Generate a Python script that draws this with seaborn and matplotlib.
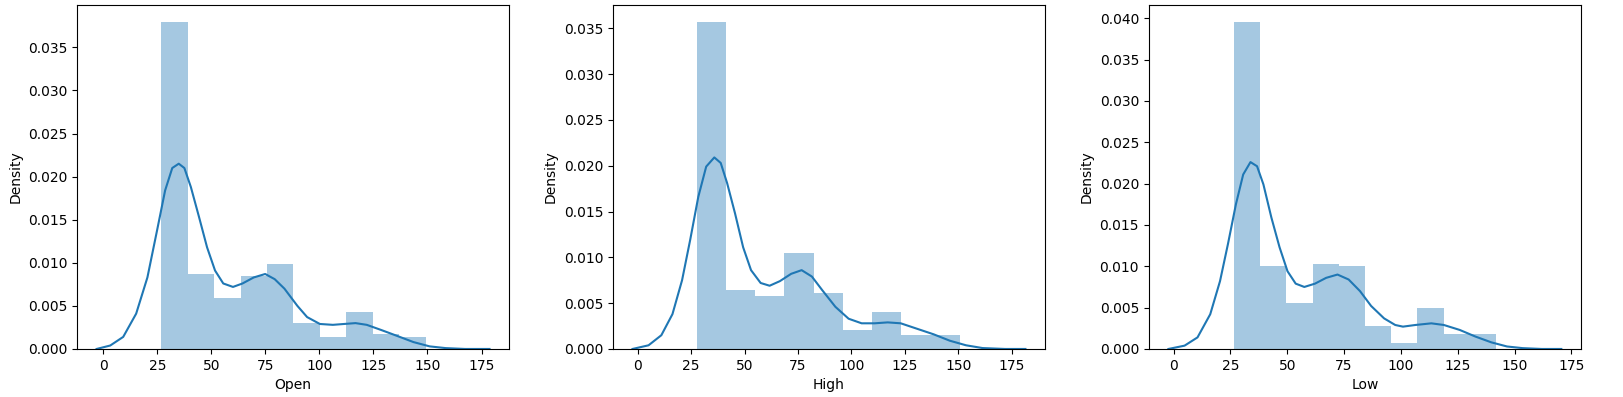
import seaborn as sns
import matplotlib
matplotlib.use("Agg")
import matplotlib.pyplot as plt
import numpy as np

# histogram bins (density)
open_edges = [26.8, 39.0, 51.3, 63.5, 75.8, 88.0, 100.2, 112.5, 124.7, 137.0, 149.2]
open_dens = [0.0380, 0.00873, 0.00595, 0.00842, 0.00981, 0.00301, 0.00139, 0.00425, 0.0017, 0.00139]
high_edges = [27.5, 41.2, 54.9, 68.6, 82.3, 95.9, 109.6, 123.3, 137.0, 150.7]
high_dens = [0.03573, 0.00646, 0.00581, 0.01046, 0.0061, 0.00203, 0.00407, 0.00153, 0.00153]
low_edges = [26.6, 38.1, 49.6, 61.2, 72.7, 84.2, 95.7, 107.3, 118.8, 130.3, 141.9]
low_dens = [0.0396, 0.00998, 0.00555, 0.0103, 0.00998, 0.00274, 0.00072, 0.00491, 0.00177, 0.00177]

# kde curves, points
open_kde_x = [-3.1, 3.2, 9.2, 15.2, 20.4, 24.9, 28.6, 31.9, 34.9, 37.5, 40.5, 44.3, 48.0, 51.7, 55.5,
              60.0, 64.4, 69.6, 74.9, 79.3, 83.8, 89.8, 94.3, 100.2, 106.2, 111.4, 116.7, 121.9,
              128.6, 136.1, 143.5, 151.0, 158.4, 167.4, 178.7]
open_kde_y = [0.0, 0.0004, 0.0014, 0.0041, 0.0083, 0.0138, 0.0184, 0.0210, 0.0215, 0.0210, 0.0188,
              0.0153, 0.0118, 0.0091, 0.0076, 0.0072, 0.0076, 0.0083, 0.0087, 0.0081, 0.0070, 0.0050,
              0.0037, 0.0029, 0.0028, 0.0029, 0.0030, 0.0028, 0.0022, 0.0015, 0.0008, 0.0003, 0.0001,
              0.0, 0.0]
high_kde_x = [-2.5, 5.0, 11.0, 16.2, 20.7, 24.5, 28.3, 32.0, 35.8, 38.8, 41.8, 45.5, 49.3, 53.0, 57.5,
              61.7, 66.5, 71.8, 76.7, 81.5, 86.4, 92.5, 98.7, 104.8, 110.9, 117.0, 123.1, 130.8,
              138.5, 146.1, 153.7, 161.4, 172.0, 181.5]
high_kde_y = [0.0, 0.0004, 0.0015, 0.0038, 0.0075, 0.0119, 0.0166, 0.0199, 0.0209, 0.0203, 0.0181,
              0.0148, 0.0111, 0.0086, 0.0072, 0.0069, 0.0074, 0.0082, 0.0086, 0.0079, 0.0064, 0.0046,
              0.0033, 0.0028, 0.0028, 0.0029, 0.0028, 0.0022, 0.0016, 0.0009, 0.0004, 0.0001, 0.0, 0.0]
low_kde_x = [-2.3, 4.8, 10.5, 16.1, 20.4, 23.9, 27.4, 30.6, 33.8, 36.7, 39.5, 43.0, 46.6, 50.1, 53.7,
             57.5, 62.2, 67.1, 72.1, 77.0, 82.0, 86.9, 92.6, 97.5, 100.9, 106.4, 113.4, 118.9, 125.9,
             132.8, 139.8, 146.7, 153.6, 162.0, 170.6]
low_kde_y = [0.0, 0.0004, 0.0014, 0.0042, 0.0082, 0.0127, 0.0175, 0.0211, 0.0226, 0.0221, 0.0199,
             0.0159, 0.0123, 0.0094, 0.0079, 0.0075, 0.0079, 0.0086, 0.0090, 0.0084, 0.0070, 0.0052,
             0.0037, 0.0029, 0.0027, 0.0029, 0.0031, 0.0029, 0.0023, 0.0015, 0.0008, 0.0003, 0.0001,
             0.0, 0.0]

columns = ["Open", "High", "Low"]
edges = [open_edges, high_edges, low_edges]
dens = [open_dens, high_dens, low_dens]
kde_x = [open_kde_x, high_kde_x, low_kde_x]
kde_y = [open_kde_y, high_kde_y, low_kde_y]

fig, axes = plt.subplots(1, 3, figsize=(16.24, 3.97), dpi=100)
fig.subplots_adjust(left=0.0474, right=0.9735, bottom=0.121, top=0.987, wspace=0.24)

for ax, col, e, d, kx, ky in zip(axes, columns, edges, dens, kde_x, kde_y):
    centers = list((np.array(e[:-1]) + np.array(e[1:])) / 2)
    sns.histplot(x=centers, weights=d, bins=e, stat="count", color="#1f77b4",
                 alpha=0.4, linewidth=0, ax=ax)
    sns.lineplot(x=kx, y=ky, color="#1f77b4", linewidth=1.5, ax=ax)
    ax.set_xlabel(col, fontsize=10)
    ax.set_ylabel("Density", fontsize=10)

plt.savefig("out.png", dpi=100)
